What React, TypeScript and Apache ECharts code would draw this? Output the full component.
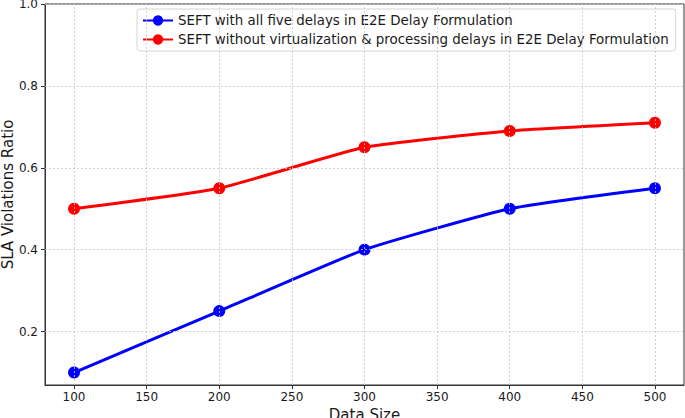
import React, { useEffect, useRef } from "react";
import * as echarts from "echarts";

const dataSizes = [100, 200, 300, 400, 500];
const allFiveDelays = [0.1, 0.25, 0.4, 0.5, 0.55];
const withoutVirtProc = [0.5, 0.55, 0.65, 0.69, 0.71];
const xTicks = [100, 150, 200, 250, 300, 350, 400, 450, 500];
const yTicks = [0.2, 0.4, 0.6, 0.8, 1.0];
const seriesNames = [
  "SEFT with all five delays in E2E Delay Formulation",
  "SEFT without virtualization & processing delays in E2E Delay Formulation",
];

const FONT = "DejaVu Sans";

export default function App() {
  const ref = useRef<HTMLDivElement>(null);
  useEffect(() => {
    document.body.style.margin = "0";
    if (!ref.current) return;
    const chart = echarts.init(ref.current, null, { renderer: "svg" });
    const gridLine = {
      color: "#c8c8c8",
      width: 0.8,
      type: [2, 2] as any,
    };
    chart.setOption({
      animation: false,
      backgroundColor: "#ffffff",
      textStyle: { fontFamily: FONT },
      grid: {
        left: 45,
        right: 1,
        top: 4,
        bottom: 33,
        containLabel: false,
        outerBoundsMode: "none",
        show: true,
        borderColor: "#333333",
        borderWidth: 1,
        backgroundColor: "transparent",
      },
      legend: {
        data: seriesNames,
        orient: "vertical",
        left: 137,
        top: 9,
        padding: [5, 7, 5, 5],
        itemGap: 6,
        itemWidth: 30,
        itemHeight: 13,
        backgroundColor: "rgba(255,255,255,0.85)",
        borderColor: "#d4d4d4",
        borderWidth: 1,
        borderRadius: 3,
        textStyle: { fontFamily: FONT, fontSize: 13.4, color: "#1a1a1a" },
      },
      xAxis: {
        type: "value",
        min: 80,
        max: 520,
        name: "Data Size",
        nameLocation: "middle",
        nameGap: 22,
        nameMoveOverlap: false,
        nameTextStyle: { fontFamily: FONT, fontSize: 15, color: "#1a1a1a" },
        axisLine: { show: true, lineStyle: { color: "#333333", width: 1 } },
        axisTick: {
          show: true,
          customValues: xTicks,
          length: 4,
          lineStyle: { color: "#333333" },
        },
        axisLabel: {
          customValues: xTicks,
          fontFamily: FONT,
          fontSize: 12,
          color: "#1a1a1a",
          margin: 6,
        },
        splitLine: { show: false },
      },
      yAxis: {
        type: "value",
        min: 0.0695,
        max: 1.0,
        name: "SLA Violations Ratio",
        nameLocation: "middle",
        nameGap: 30,
        nameMoveOverlap: false,
        nameTextStyle: { fontFamily: FONT, fontSize: 15, color: "#1a1a1a" },
        axisLine: { show: true, lineStyle: { color: "#333333", width: 1 } },
        axisTick: {
          show: true,
          customValues: yTicks,
          length: 4,
          lineStyle: { color: "#333333" },
        },
        axisLabel: {
          customValues: yTicks,
          fontFamily: FONT,
          fontSize: 12,
          color: "#1a1a1a",
          margin: 7,
          formatter: (v: number) => v.toFixed(1),
        },
        splitLine: { show: false },
      },
      series: [
        {
          name: "grid",
          type: "line",
          data: [],
          z: 1,
          silent: true,
          markLine: {
            silent: true,
            symbol: "none",
            label: { show: false },
            lineStyle: gridLine,
            data: [
              ...xTicks.map((v) => ({ xAxis: v })),
              ...yTicks.map((v) => ({ yAxis: v })),
            ],
          },
        },
        {
          name: seriesNames[0],
          type: "line",
          z: 3,
          data: dataSizes.map((x, i) => [x, allFiveDelays[i]]),
          smooth: 0.15,
          symbol: "circle",
          symbolSize: 12,
          itemStyle: { color: "#0000ff" },
          lineStyle: { color: "#0000ff", width: 3 },
        },
        {
          name: seriesNames[1],
          type: "line",
          z: 3,
          data: dataSizes.map((x, i) => [x, withoutVirtProc[i]]),
          smooth: 0.15,
          symbol: "circle",
          symbolSize: 12,
          itemStyle: { color: "#ff0000" },
          lineStyle: { color: "#ff0000", width: 3 },
        },
      ],
    });
    return () => chart.dispose();
  }, []);
  return <div ref={ref} style={{ width: 685, height: 418 }} />;
}
